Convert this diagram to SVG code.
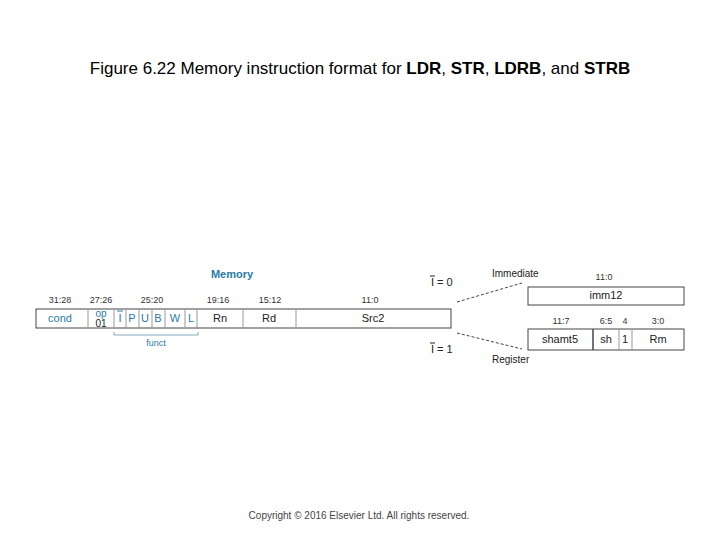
<svg xmlns="http://www.w3.org/2000/svg" width="720" height="540" viewBox="0 0 720 540">
<style>
text{font-family:"Liberation Sans",Arial,sans-serif;}
.b{font-size:9px;fill:#333;text-anchor:middle}
.f{font-size:11px;fill:#222;text-anchor:middle}
.bl{fill:#2a7aa8}
.box{fill:#fff;stroke:#444;stroke-width:1}
.d{stroke:#999;stroke-width:1}
.dash{stroke:#444;stroke-width:1;stroke-dasharray:3,2;fill:none}
</style>
<rect width="720" height="540" fill="#fff"/>
<text x="360" y="74" font-size="17" text-anchor="middle" fill="#000">Figure 6.22 Memory instruction format for <tspan font-weight="bold">LDR</tspan>, <tspan font-weight="bold">STR</tspan>, <tspan font-weight="bold">LDRB</tspan>, and <tspan font-weight="bold">STRB</tspan></text>
<text x="232" y="278" font-size="11" font-weight="bold" class="bl" text-anchor="middle">Memory</text>
<g id="main">
<rect class="box" x="36" y="309" width="415" height="19"/>
<g class="d"><line x1="88" y1="309" x2="88" y2="328"/><line x1="114" y1="309" x2="114" y2="328"/><line x1="126" y1="309" x2="126" y2="328"/><line x1="139" y1="309" x2="139" y2="328"/><line x1="152" y1="309" x2="152" y2="328"/><line x1="165" y1="309" x2="165" y2="328"/><line x1="185" y1="309" x2="185" y2="328"/><line x1="197" y1="309" x2="197" y2="328"/><line x1="243" y1="309" x2="243" y2="328"/><line x1="296" y1="309" x2="296" y2="328"/></g>
<text class="b" x="60" y="303">31:28</text><text class="b" x="101" y="303">27:26</text><text class="b" x="152" y="303">25:20</text><text class="b" x="218" y="303">19:16</text><text class="b" x="270" y="303">15:12</text><text class="b" x="370" y="303">11:0</text>
<text class="f bl" x="60" y="322">cond</text>
<text class="bl" x="101" y="317" font-size="10" text-anchor="middle">op</text><text x="101" y="327" font-size="10" fill="#222" text-anchor="middle">01</text>
<text class="f bl" x="120" y="322">I</text><line x1="117" y1="311" x2="123" y2="311" stroke="#2a7aa8"/>
<text class="f bl" x="132" y="322">P</text><text class="f bl" x="145" y="322">U</text><text class="f bl" x="158" y="322">B</text><text class="f bl" x="175" y="322">W</text><text class="f bl" x="191" y="322">L</text>
<text class="f" x="220" y="322">Rn</text><text class="f" x="269" y="322">Rd</text><text class="f" x="373" y="322">Src2</text>
<path d="M114,332 V335 H198 V332" fill="none" stroke="#8ab"/>
<text x="156" y="346" font-size="9" class="bl" text-anchor="middle">funct</text>
</g>
<g id="connectors">
<line class="dash" x1="457" y1="302" x2="522" y2="283"/>
<line class="dash" x1="457" y1="333" x2="522" y2="349"/>
</g>
<text x="431" y="286" font-size="11" fill="#222">I = 0</text><line x1="430" y1="276" x2="435" y2="276" stroke="#222"/>
<text x="431" y="353" font-size="11" fill="#222">I = 1</text><line x1="430" y1="343" x2="435" y2="343" stroke="#222"/>
<text x="492" y="277" font-size="10" fill="#222">Immediate</text>
<text x="492" y="363" font-size="10" fill="#222">Register</text>
<g id="imm">
<text class="b" x="604" y="280">11:0</text>
<rect class="box" x="528" y="287" width="156" height="18"/>
<text class="f" x="606" y="299">imm12</text>
</g>
<g id="reg">
<text class="b" x="561" y="324">11:7</text><text class="b" x="606" y="324">6:5</text><text class="b" x="625" y="324">4</text><text class="b" x="658" y="324">3:0</text>
<rect class="box" x="528" y="329" width="156" height="21"/>
<line x1="593" y1="329" x2="593" y2="350" stroke="#444" stroke-width="1.5"/><line class="d" x1="619" y1="329" x2="619" y2="350"/><line class="d" x1="632" y1="329" x2="632" y2="350"/>
<text class="f" x="560" y="343">shamt5</text><text class="f" x="606" y="343">sh</text><text class="f" x="625" y="343">1</text><text class="f" x="658" y="343">Rm</text>
</g>
<text x="359" y="519" font-size="10" fill="#444" text-anchor="middle">Copyright © 2016 Elsevier Ltd. All rights reserved.</text>
</svg>
